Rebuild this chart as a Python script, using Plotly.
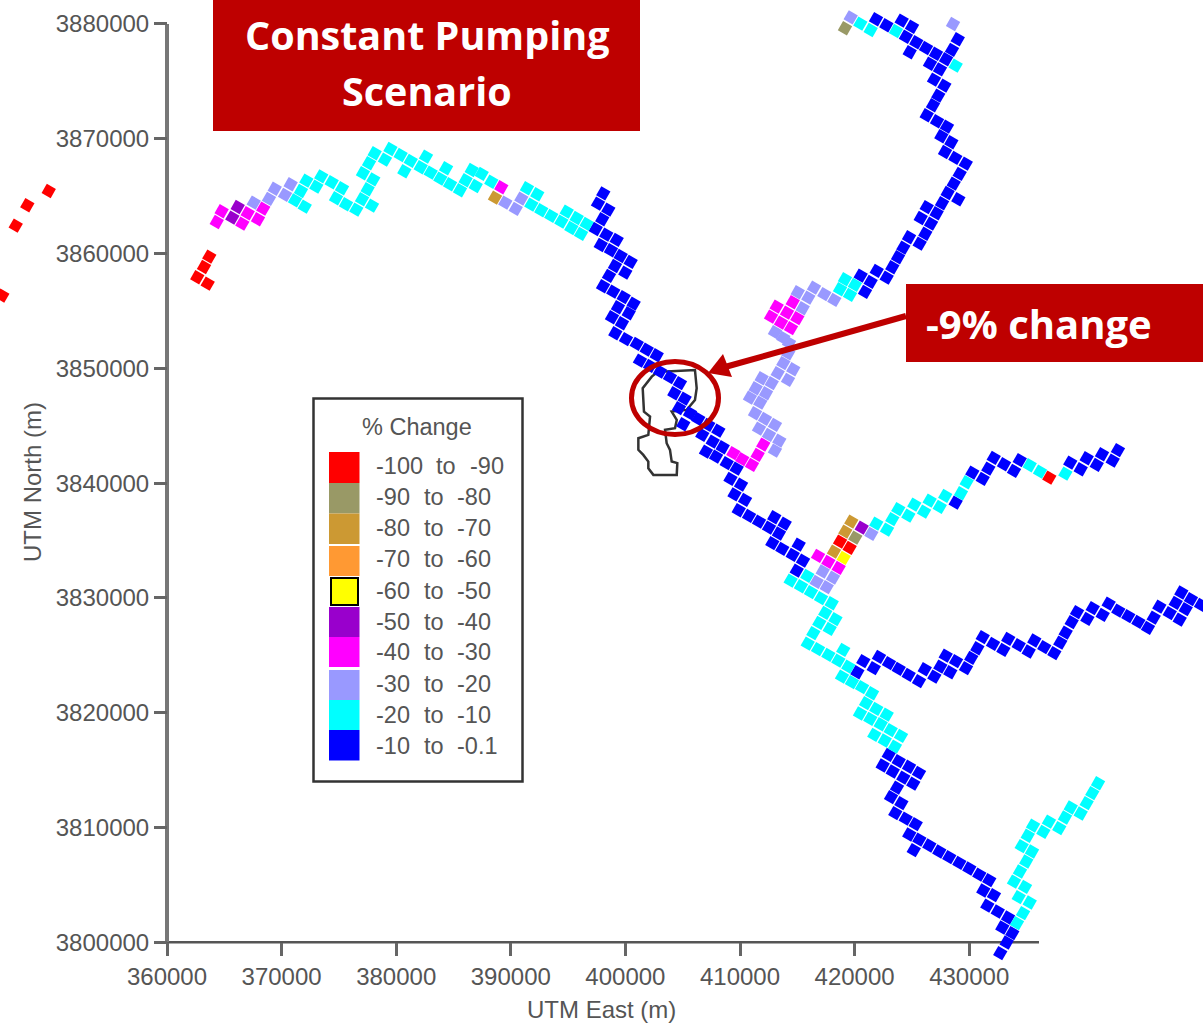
import plotly.graph_objects as go

# ---------- data (UTM metres) ----------
red_x = [349680,347810,346800,345630,363690,363230,362640,363550,436990,418730,419570]
red_y = [3865450,3864210,3862430,3856340,3859730,3858830,3857940,3857380,3840480,3834910,3834360]
olive_x = [419160,420060]
olive_y = [3879630,3835260]
tan_x = [388620,418200,419190,419710]
tan_y = [3864870,3834040,3835780,3836650]
yellow_x = [419050]
yellow_y = [3833490]
purple_x = [366170,365700,420620]
purple_y = [3864060,3863130,3836130]
magenta_x = [364770,364340,367040,366570,368400,367940,389170,409420,410200,411050,411540,412030,
             414600,413200,414100,412710,413580,415000,414450,416810,417710,418610]
magenta_y = [3863690,3862750,3863510,3862610,3863910,3862990,3865780,3842610,3842090,3841590,3842460,3843360,
             3855760,3855380,3854850,3854510,3853980,3854370,3853500,3833660,3833140,3832620]
lavender_x = [367570,368900,369400,370300,370790,389520,390430,390920,413050,413430,412530,411660,413050,412180,
              411310,411770,410870,412270,411370,412770,411890,413290,414190,414650,413780,414210,414280,413780,
              413050,415470,415040,415960,416460,417360,418230,419660,428590,421460,417220,418120,416690,417570]
lavender_y = [3864440,3864760,3865650,3865110,3866040,3864440,3863890,3864780,3842830,3843710,3844200,3844750,3845070,3845600,
              3846090,3847020,3847450,3847830,3848270,3848710,3849140,3849580,3848990,3849920,3850450,3851320,3852220,3852650,
              3853150,3855240,3856630,3856160,3857030,3856460,3855960,3880580,3880000,3835580,3832300,3831770,3831400,3830940]
cyan_x = [372160,371690,371170,372020,373030,373460,374370,375270,374750,375620,376520,377020,377890,377510,378000,
          377100,377630,378120,379020,379500,380390,381270,382600,382140,380710,383010,383850,384350,384700,385570,
          386060,386590,386940,387460,388300,391410,392310,391790,392660,393530,394410,394880,395750,395280,396620,396130,
          420500,421400,423610,428820,419160,420030,418730,419600,
          415870,414420,415320,416190,417070,418000,417440,418330,416920,417830,416400,415910,416810,417710,419010,418580,
          419450,418900,419770,420650,421520,421000,420470,421890,421370,422800,422280,421720,423150,422630,424050,423520,
          421890,422830,423290,423810,424690,425210,426060,426550,427430,427910,429280,429780,435280,436180,438390,
          434170,434700,435280,434320,434870,433910,434430,434980,435480,434580,435110,435570,436470,436960,437860,438360,
          438860,439730,440250,440740,441240]
cyan_y = [3866350,3865450,3864640,3864090,3865830,3866730,3866210,3865690,3864820,3864300,3863830,3864730,3864170,3865600,3866470,
          3867000,3867870,3868740,3868180,3869110,3868590,3868070,3868440,3867520,3867170,3867050,3866530,3867430,3866040,3865520,
          3866390,3867280,3865890,3866940,3866260,3865690,3865170,3864260,3863770,3863280,3862780,3863650,3863100,3862230,3862580,3861710,
          3880030,3879480,3879390,3876370,3857760,3857270,3856890,3856400,
          3831920,3831510,3831020,3830500,3829980,3829540,3828700,3828150,3827830,3827300,3826930,3826020,3825540,3825040,3825480,3824540,
          3824020,3823150,3822660,3822230,3821700,3820830,3819930,3820340,3819470,3819840,3819000,3818070,3818480,3817580,3817980,3817050,
          3836480,3835950,3836860,3837730,3837170,3838130,3837520,3838480,3837930,3838890,3839120,3840080,3841560,3841010,3840830,
          3801670,3802540,3803470,3803940,3804830,3805290,3806170,3807040,3807910,3808380,3809280,3810170,3809620,3810520,3809950,3810870,
          3811740,3811220,3812120,3812990,3813860]
blue_x = [398070,397610,398510,397980,397410,398330,399240,397850,398740,399590,400460,399090,399990,398570,398050,398940,
          399850,400720,399350,400290,398830,399700,399120,400050,400990,401860,402730,401270,402150,403020,403890,404760,
          404270,405170,404680,405640,406360,405050,407230,408110,406710,407620,408490,407030,407910,408840,409710,409170,
          410090,409520,410440,409890,410790,411660,412530,412990,413900,413400,412820,413690,414600,415120,415500,414950,
          421870,422770,424110,425010,424480,425380,426230,424810,427100,427980,428500,429000,426580,427450,426930,427830,
          427300,426840,426290,427190,428060,427570,428440,427890,428790,429700,429170,428650,428120,429050,427630,427160,
          426290,425770,426670,426170,425680,424750,424250,423790,423290,422800,421930,421400,420530,420910,
          428820,430270,431180,431670,432140,433040,433910,434410,438820,439730,440250,441130,441590,442520,442980,
          420240,420760,421670,422130,423000,423850,424720,425620,426120,426960,427480,427950,428850,428350,429720,430180,
          430710,431180,432080,432980,433410,434320,435190,435680,436550,437430,437950,438420,438940,439410,440310,440780,
          441650,442170,443010,443880,444760,445600,446100,446590,447500,448370,448890,448020,448510,449350,450230,
          422980,423850,424750,425620,422450,423330,424250,425120,423700,423180,424080,423550,424460,425330,424770,425650,
          425160,426520,427390,428260,429140,430010,430880,431750,431230,432160,431580,432490,433390,432890,433760,433270,432710]
blue_y = [3865250,3864350,3863830,3862990,3862140,3861650,3861190,3860750,3860290,3859790,3859270,3858920,3858340,3858050,3857150,3856680,
          3856200,3855640,3855320,3854800,3854450,3853930,3853060,3852540,3852130,3851630,3851140,3850670,3850210,3849720,3849230,3848710,
          3847830,3847360,3846530,3846090,3845600,3845130,3845070,3844580,3844200,3843620,3843130,3842750,3842310,3841740,3841270,3840370,
          3839870,3839020,3838540,3837640,3837150,3836650,3836130,3837030,3836480,3835610,3834770,3834270,3833750,3834650,3833250,3832380,
          3880410,3879890,3880290,3879760,3878890,3878410,3877910,3877540,3877410,3876930,3877740,3878670,3876540,3876050,3875150,3874630,
          3873760,3872920,3872050,3871530,3871060,3870220,3869700,3868850,3868330,3867830,3866940,3866090,3865280,3864730,3864380,3863510,
          3864040,3863100,3862610,3861730,3860860,3861420,3860520,3859680,3858810,3857900,3858490,3857530,3858080,3856660,
          3838300,3840920,3840370,3841270,3842200,3841650,3841070,3842000,3841790,3841210,3842170,3841590,3842520,3841960,3842870,
          3823530,3824490,3823880,3824870,3824320,3823820,3823300,3822750,3823790,3823150,3824020,3824980,3824490,3823530,3823880,3824780,
          3825620,3826580,3826000,3825480,3826430,3825890,3825330,3826290,3825710,3825190,3826110,3826980,3827890,3828760,3828180,3829110,
          3828520,3829510,3828900,3828410,3827910,3827390,3828290,3829250,3828670,3828110,3829020,3829570,3830470,3829890,3829390,
          3816330,3815780,3815290,3814760,3815400,3814880,3814350,3813830,3813480,3812650,3812120,3811250,3810780,3810290,3809390,3808950,
          3808030,3808430,3807910,3807420,3806920,3806430,3805900,3805420,3804510,3804110,3803200,3802680,3802160,3801290,3800800,3799980,3799060]
outline_x = [403020,403600,406070,406220,406070,405350,404040,404480,404330,403460,403600,403890,404040,404530,404480,
             402440,402000,402000,401560,401130,401130,402000,402150,401620,401510,402300,403020]
outline_y = [3849860,3849720,3849860,3848270,3847250,3846380,3846230,3845510,3844790,3844640,3843480,3842900,3841880,3841740,3840720,
             3840720,3841300,3841880,3842460,3842900,3843910,3844200,3845800,3846230,3848270,3849280,3849860]

x_ticks = [360000,370000,380000,390000,400000,410000,420000,430000]
y_ticks = [3800000,3810000,3820000,3830000,3840000,3850000,3860000,3870000,3880000]
legend_low = ["-100","-90","-80","-70","-60","-50","-40","-30","-20","-10"]
legend_high = ["-90","-80","-70","-60","-50","-40","-30","-20","-10","-0.1"]
legend_colors = ["#FF0000","#999966","#CC9933","#FF9933","#FFFF00","#9900CC","#FF00FF","#9999FF","#00FFFF","#0000FF"]

W, H = 1203, 1024
FONT = "Liberation Sans"
GREY = "#555555"
DARKRED = "#BE0000"
def px(v): return v / W
def py(v): return 1 - v / H

fig = go.Figure()
fig.add_trace(go.Scatter(x=outline_x, y=outline_y, mode="lines",
                         line=dict(color="#333333", width=2.5), showlegend=False))
series = [(blue_x, blue_y, "#0000FF"), (cyan_x, cyan_y, "#00FFFF"), (lavender_x, lavender_y, "#9999FF"),
          (magenta_x, magenta_y, "#FF00FF"), (purple_x, purple_y, "#9900CC"), (yellow_x, yellow_y, "#FFFF00"),
          (tan_x, tan_y, "#CC9933"), (olive_x, olive_y, "#999966"), (red_x, red_y, "#FF0000")]
for xs, ys, c in series:
    fig.add_trace(go.Scatter(x=xs, y=ys, mode="markers", showlegend=False,
                             marker=dict(symbol="square", size=10.5, angle=30, color=c, line=dict(width=0))))

shapes, annos = [], []
def rect(x0, y0, x1, y1, fill, line=None, lw=0):
    shapes.append(dict(type="rect", xref="paper", yref="paper", x0=px(x0), x1=px(x1), y0=py(y0), y1=py(y1),
                       fillcolor=fill, line=dict(color=line, width=lw) if line else dict(width=0), layer="above"))
def text(x, y, s, size=23.5, color=GREY, anchor="left", bold=False, family=FONT, angle=0):
    annos.append(dict(xref="paper", yref="paper", x=px(x), y=py(y), text=f"<b>{s}</b>" if bold else s,
                      showarrow=False, xanchor=anchor, yanchor="middle", align="center", textangle=angle,
                      font=dict(family=family, size=size, color=color)))

# axis lines stop at the axis limits while the marks run past them
shapes.append(dict(type="line", xref="x", yref="y", x0=360000, x1=436090, y0=3800000, y1=3800000,
                   line=dict(color="#555555", width=2.5), layer="below"))
shapes.append(dict(type="line", xref="x", yref="y", x0=360000, x1=360000, y0=3800000, y1=3880000,
                   line=dict(color="#777777", width=4), layer="below"))
text(601, 1009, "UTM East (m)", size=24, anchor="center")
text(32, 482, "UTM North (m)", size=24, anchor="center", angle=-90)

# legend panel
rect(313.5, 398.5, 522.5, 781.5, "white", "#333333", 2.5)
text(417, 427, "% Change", anchor="center")
tops = [452, 483, 513.5, 546, 577, 607, 637, 670, 700, 730]
bots = [483, 513.5, 544, 576, 606, 637, 667, 700, 730, 760.5]
mids = [466, 497, 528, 559, 590.5, 621.5, 652, 683.5, 715, 746]
for i, (lo, hi, c) in enumerate(zip(legend_low, legend_high, legend_colors)):
    if c == "#FFFF00":
        rect(331, tops[i] + 1, 358, bots[i] - 1, c, "#000000", 2)
    else:
        rect(329, tops[i], 359.5, bots[i], c)
    text(373.5, mids[i], lo)
    wide = lo == "-100"
    text(434 if wide else 421.5, mids[i], "to")
    text(467.5 if wide else 454.5, mids[i], hi)

# headline boxes
rect(213, 0, 640, 131, DARKRED)
text(426.5, 34.5, "Constant Pumping", size=39.5, color="white", anchor="center", bold=True, family="Open Sans")
text(426.5, 90.5, "Scenario", size=39.5, color="white", anchor="center", bold=True, family="Open Sans")
rect(906, 284, 1203, 362, DARKRED)
text(1039, 323, "-9% change", size=40, color="white", anchor="center", bold=True, family="Open Sans")

# circle and arrow
shapes.append(dict(type="circle", xref="paper", yref="paper", x0=px(631.5), x1=px(718.5), y0=py(361.5), y1=py(434.5),
                   line=dict(color=DARKRED, width=5), layer="above"))
shapes.append(dict(type="line", xref="paper", yref="paper", x0=px(906), y0=py(316), x1=px(725), y1=py(367),
                   line=dict(color=DARKRED, width=6), layer="above"))
tri = f"M {px(708)} {py(373)} L {px(723)} {py(354)} L {px(732)} {py(377)} Z"
shapes.append(dict(type="path", xref="paper", yref="paper", path=tri, fillcolor=DARKRED,
                   line=dict(width=0), layer="above"))

fig.update_layout(
    width=W, height=H, margin=dict(l=0, r=0, t=0, b=0), autosize=False,
    paper_bgcolor="white", plot_bgcolor="white", hovermode=False,
    font=dict(family=FONT, size=24, color=GREY),
    shapes=shapes, annotations=annos,
    xaxis=dict(domain=[0, 1], range=[345428, 450401], anchor="free", position=py(942.3), automargin=False,
               tickmode="array", tickvals=x_ticks,
               ticktext=[str(v) for v in x_ticks], ticks="outside", ticklen=13, tickwidth=2.5, tickcolor="#666666",
               showgrid=False, zeroline=False, showline=False,
               tickfont=dict(family=FONT, size=24, color=GREY)),
    yaxis=dict(domain=[0, 1], range=[3792883, 3882090], anchor="free", position=px(167), automargin=False,
               tickmode="array", tickvals=y_ticks,
               ticktext=[str(v) for v in y_ticks], ticks="outside", ticklen=13, tickwidth=2.5, tickcolor="#666666",
               showgrid=False, zeroline=False, showline=False,
               tickfont=dict(family=FONT, size=24, color=GREY)),
)
fig.write_html("out.html", config={"displayModeBar": False},
               post_script="document.body.style.margin='0';document.body.style.overflow='hidden';")
